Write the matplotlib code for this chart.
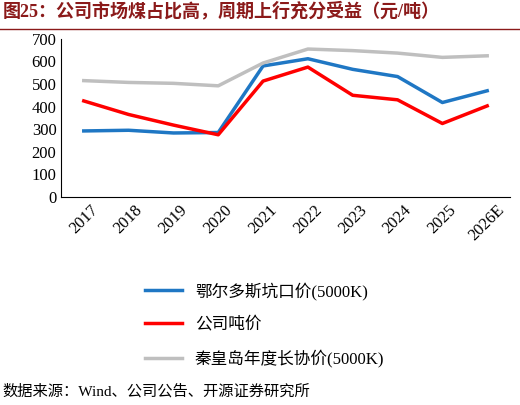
import matplotlib
matplotlib.use("Agg")
import matplotlib.pyplot as plt

years = ["2017","2018","2019","2020","2021","2022","2023","2024","2025","2026E"]
erdos = [292,295,283,285,580,612,565,533,418,470]
company = [425,365,318,275,513,575,450,430,325,403]
qhd = [515,507,503,492,593,655,648,637,618,625]

fam = ['Liberation Serif', 'Noto Sans CJK SC']
plt.rcParams['font.family'] = fam
fig = plt.figure(figsize=(5.2,4.05), dpi=100)
ax = fig.add_axes([0.118,0.514,0.862,0.39])
x = range(len(years))
l1, = ax.plot(x, erdos, color='#1f77c4', lw=2.5, label='鄂尔多斯坑口价(5000K)')
l2, = ax.plot(x, company, color='#ff0000', lw=2.5, label='公司吨价')
l3, = ax.plot(x, qhd, color='#bfbfbf', lw=2.5, label='秦皇岛年度长协价(5000K)')
ax.set_ylim(0,700)
ax.set_yticks(range(0,701,100))
ax.set_xlim(-0.5,9.5)
ax.set_xticks(list(x))
ax.set_xticklabels(years, rotation=45, fontsize=12)
ax.tick_params(axis='y', labelsize=12)
for s in ['top','right']:
    ax.spines[s].set_visible(False)
ax.tick_params(length=0)
fig.legend(handles=[l1,l2,l3], loc='upper left', bbox_to_anchor=(0.25,0.34), frameon=False,
           labelspacing=1.0, handlelength=2.2, prop={'family':['Liberation Serif','Noto Sans CJK SC'],'size':12})
fig.text(0.005,0.995,'图25：公司市场煤占比高，周期上行充分受益（元/吨）', fontsize=13, fontweight='bold',
         color='#8b1a1a', va='top', family=['Liberation Serif','Noto Sans CJK SC'])
fig.add_artist(plt.Line2D([0,1],[0.928,0.928], color='#8b1a1a', lw=1))
fig.text(0.005,0.015,'数据来源：Wind、公司公告、开源证券研究所', fontsize=11, va='bottom',
         family=['Liberation Serif','Noto Sans CJK SC'])
fig.savefig('out.png')
